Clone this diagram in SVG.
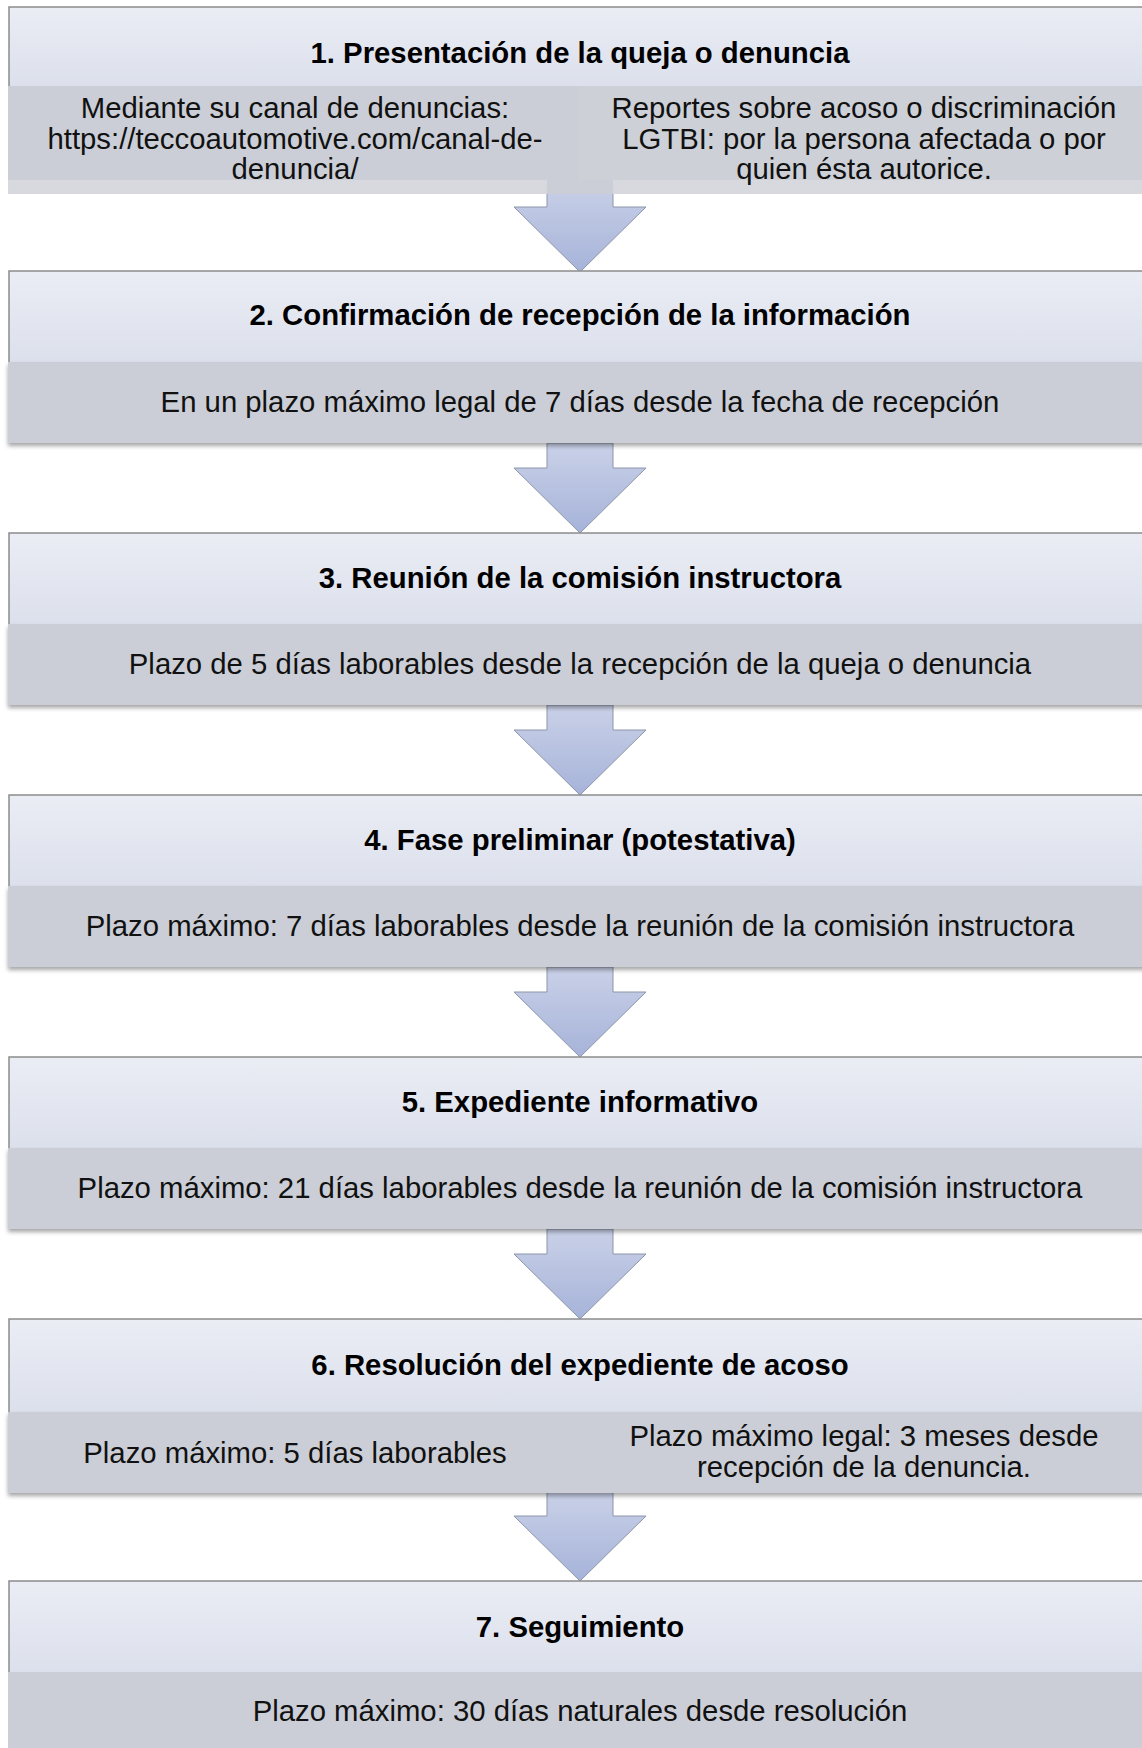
<svg xmlns="http://www.w3.org/2000/svg" width="1142" height="1748" viewBox="0 0 1142 1748">
<defs>
<linearGradient id="hdr" x1="0" y1="0" x2="0" y2="1">
<stop offset="0" stop-color="#eaedf4"/>
<stop offset="1" stop-color="#dce0ec"/>
</linearGradient>
<linearGradient id="arr" x1="0" y1="0" x2="0" y2="1">
<stop offset="0" stop-color="#cad1e8"/>
<stop offset="1" stop-color="#a6b3d9"/>
</linearGradient>
<filter id="sh" x="-5%" y="-20%" width="110%" height="150%">
<feDropShadow dx="0" dy="3" stdDeviation="2" flood-color="#000" flood-opacity="0.35"/>
</filter>
</defs>
<style>
.hdr{fill:url(#hdr)}
.brd{fill:none;stroke:#8c8c8c;stroke-width:1.5}
.band{fill:#cbced6}
.arrow{fill:url(#arr);stroke:#8d95a8;stroke-width:1}
.t{font-family:"Liberation Sans",Arial,sans-serif;font-size:29.3px;font-weight:bold;fill:#000;text-anchor:middle}
.b{font-family:"Liberation Sans",Arial,sans-serif;font-size:29.3px;fill:#111;text-anchor:middle}
</style>
<rect width="1142" height="1748" fill="#ffffff"/>

<g id="connectors">
<path class="arrow" d="M547 180 H613 V207 H646 L580 272 L514 207 H547 Z"/>
<path class="arrow" d="M547 443 H613 V468 H646 L580 533 L514 468 H547 Z"/>
<path class="arrow" d="M547 705 H613 V730 H646 L580 795 L514 730 H547 Z"/>
<path class="arrow" d="M547 967 H613 V992 H646 L580 1057 L514 992 H547 Z"/>
<path class="arrow" d="M547 1229 H613 V1254 H646 L580 1319 L514 1254 H547 Z"/>
<path class="arrow" d="M547 1491 H613 V1516 H646 L580 1581 L514 1516 H547 Z"/>
</g>

<g id="node1">
<rect class="hdr" x="9" y="7" width="1145" height="79"/>
<path class="brd" d="M9 86 V7 H1154"/>
<rect x="8" y="180" width="539" height="14" fill="#d7d9de"/>
<rect x="613" y="180" width="541" height="14" fill="#d7d9de"/>
<rect x="547" y="180" width="66" height="14" fill="#cbced6"/>
<rect class="band" x="8" y="86" width="570" height="94"/>
<rect x="578" y="86" width="576" height="94" fill="#cdd0d7"/>
<text class="t" x="580" y="63">1. Presentación de la queja o denuncia</text>
<text class="b" x="295" y="118">Mediante su canal de denuncias:</text>
<text class="b" x="295" y="148.5">https://teccoautomotive.com/canal-de-</text>
<text class="b" x="295" y="179">denuncia/</text>
<text class="b" x="864" y="118">Reportes sobre acoso o discriminación</text>
<text class="b" x="864" y="148.5">LGTBI: por la persona afectada o por</text>
<text class="b" x="864" y="179">quien ésta autorice.</text>
</g>

<g id="node2">
<rect class="hdr" x="9" y="271" width="1145" height="91"/>
<path class="brd" d="M9 362 V271 H1154"/>
<rect class="band" x="8" y="362" width="1146" height="81" filter="url(#sh)"/>
<text class="t" x="580" y="325">2. Confirmación de recepción de la información</text>
<text class="b" x="580" y="412">En un plazo máximo legal de 7 días desde la fecha de recepción</text>
</g>

<g id="node3">
<rect class="hdr" x="9" y="533" width="1145" height="91"/>
<path class="brd" d="M9 624 V533 H1154"/>
<rect class="band" x="8" y="624" width="1146" height="81" filter="url(#sh)"/>
<text class="t" x="580" y="588">3. Reunión de la comisión instructora</text>
<text class="b" x="580" y="674">Plazo de 5 días laborables desde la recepción de la queja o denuncia</text>
</g>

<g id="node4">
<rect class="hdr" x="9" y="795" width="1145" height="91"/>
<path class="brd" d="M9 886 V795 H1154"/>
<rect class="band" x="8" y="886" width="1146" height="81" filter="url(#sh)"/>
<text class="t" x="580" y="850">4. Fase preliminar (potestativa)</text>
<text class="b" x="580" y="936">Plazo máximo: 7 días laborables desde la reunión de la comisión instructora</text>
</g>

<g id="node5">
<rect class="hdr" x="9" y="1057" width="1145" height="91"/>
<path class="brd" d="M9 1148 V1057 H1154"/>
<rect class="band" x="8" y="1148" width="1146" height="81" filter="url(#sh)"/>
<text class="t" x="580" y="1112">5. Expediente informativo</text>
<text class="b" x="580" y="1198">Plazo máximo: 21 días laborables desde la reunión de la comisión instructora</text>
</g>

<g id="node6">
<rect class="hdr" x="9" y="1319" width="1145" height="93"/>
<path class="brd" d="M9 1412 V1319 H1154"/>
<rect class="band" x="8" y="1412" width="1146" height="81" filter="url(#sh)"/>
<text class="t" x="580" y="1375">6. Resolución del expediente de acoso</text>
<text class="b" x="295" y="1463">Plazo máximo: 5 días laborables</text>
<text class="b" x="864" y="1446">Plazo máximo legal: 3 meses desde</text>
<text class="b" x="864" y="1477">recepción de la denuncia.</text>
</g>

<g id="node7">
<rect class="hdr" x="9" y="1581" width="1145" height="91"/>
<path class="brd" d="M9 1672 V1581 H1154"/>
<rect class="band" x="8" y="1672" width="1146" height="81"/>
<text class="t" x="580" y="1637">7. Seguimiento</text>
<text class="b" x="580" y="1721">Plazo máximo: 30 días naturales desde resolución</text>
</g>
</svg>
